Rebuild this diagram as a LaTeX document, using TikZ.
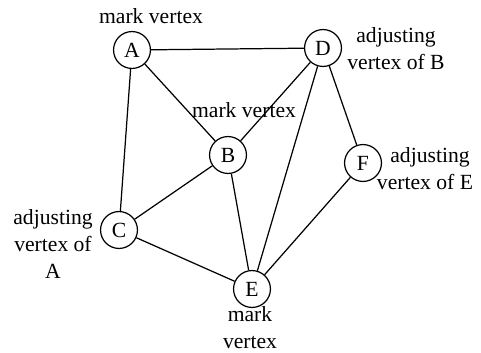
\documentclass[tikz,border=0pt]{standalone}
\usepackage{fontspec}
\setmainfont{Liberation Serif}
\usetikzlibrary{positioning}

\tikzset{
    vertex/.style={draw, circle, minimum size=21pt, inner sep=0pt, line width=0.7pt},
    note/.style={align=center, inner sep=0pt},
    edge/.style={line width=0.7pt}
}

\begin{document}
\begin{tikzpicture}[font=\fontsize{12.3}{15.4}\selectfont]
    \useasboundingbox(0,0)rectangle(9.62,7.04);
    % vertices
    \node[vertex](A)at(2.64,6.04){A};
    \node[vertex](D)at(6.46,6.08){D};
    \node[vertex](B)at(4.56,3.94){B};
    \node[vertex](F)at(7.26,3.78){F};
    \node[vertex](C)at(2.38,2.44){C};
    \node[vertex](E)at(5.04,1.26){E};
    % edges
    \draw[edge](A)--(D);
    \draw[edge](A)--(B);
    \draw[edge](A)--(C);
    \draw[edge](D)--(B);
    \draw[edge](D)--(E);
    \draw[edge](D)--(F);
    \draw[edge](B)--(C);
    \draw[edge](B)--(E);
    \draw[edge](C)--(E);
    \draw[edge](F)--(E);
    % labels
    \node[note](markA)at(3.02,6.72){mark vertex};
    \node[note](markB)at(4.88,4.84){mark vertex};
    \node[note](adjB)at(7.92,6.07){adjusting\\vertex of B};
    \node[note](adjE)at(8.5,3.66){\hspace*{0.2cm}adjusting\\vertex of E};
    \node[note](adjA)at(1.06,2.16){adjusting\\vertex of\\A};
    \node[note](markE)at(5.0,0.48){mark\\vertex};
\end{tikzpicture}
\end{document}
